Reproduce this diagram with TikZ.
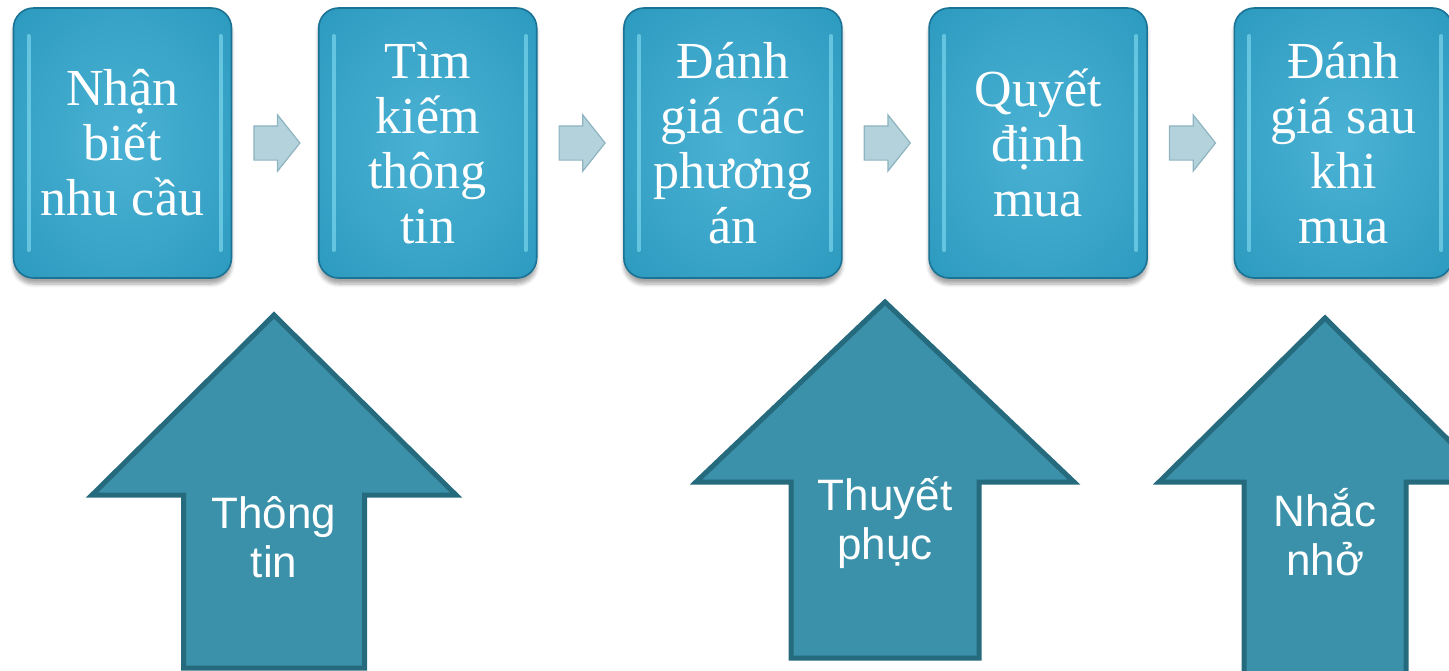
\documentclass[tikz,border=0pt]{standalone}
\usepackage{fontspec}
\setmainfont{Liberation Serif}
\newfontfamily\arrowfont{Liberation Sans}
\usetikzlibrary{positioning,shapes.arrows,shadows.blur,calc}

\definecolor{boxlight}{HTML}{4AB2D4}
\definecolor{boxdark}{HTML}{2392B8}
\definecolor{boxedge}{HTML}{1A7394}
\definecolor{gloss}{HTML}{8FE6F8}
\definecolor{stepfill}{HTML}{B4D2DB}
\definecolor{stepedge}{HTML}{8DB4C0}
\definecolor{upfill}{HTML}{3A91A9}
\definecolor{upedge}{HTML}{266A7D}

\pgfdeclareradialshading{glossy}{\pgfpoint{0bp}{0bp}}{%
  color(0bp)=(boxlight); color(22bp)=(boxlight!55!boxdark);
  color(45bp)=(boxdark); color(100bp)=(boxdark)}

\begin{document}
\begin{tikzpicture}[
  x=0.5pt, y=-0.5pt,
  node distance=42.8pt,
  box/.style={draw=boxedge, line width=0.8pt, rounded corners=10pt, shading=glossy,
    minimum width=109pt, minimum height=135pt, align=center, text=white,
    font=\fontsize{26pt}{27.5pt}\selectfont,
    blur shadow={shadow xshift=0pt, shadow yshift=-3pt, shadow opacity=35, shadow blur steps=6},
    path picture={
      \draw[gloss, line width=2pt, line cap=round, opacity=0.55]
        ([xshift=7.5pt, yshift=-14pt]path picture bounding box.north west)
        -- ([xshift=7.5pt, yshift=14pt]path picture bounding box.south west);
      \draw[gloss, line width=2pt, line cap=round, opacity=0.55]
        ([xshift=-5.5pt, yshift=-14pt]path picture bounding box.north east)
        -- ([xshift=-5.5pt, yshift=14pt]path picture bounding box.south east);
    }},
  stepto/.style={single arrow, draw=stepedge, fill=stepfill, line width=0.6pt,
    inner sep=0pt, text height=16.5pt, single arrow head extend=5.5pt,
    minimum height=23pt, single arrow tip angle=103, xshift=-2.5pt},
  uparrow/.style={draw=upedge, fill=upfill, line width=2.5pt, line join=miter},
  uplabel/.style={align=center, text=white, font=\arrowfont\fontsize{22pt}{24.5pt}\selectfont}
]
  \useasboundingbox (0,0) rectangle (1449,670);
  \clip (0,0) rectangle (1449,670);

  % the five buying stages
  \node[box] (need) at (122.5,143) {Nhận\\biết\\nhu cầu};
  \node[box, right=of need] (search) {Tìm\\kiếm\\thông\\tin};
  \node[box, right=of search] (evaluate) {Đánh\\giá các\\phương\\án};
  \node[box, right=of evaluate] (decide) {Quyết\\định\\mua};
  \node[box, right=of decide] (after) {Đánh\\giá sau\\khi\\mua};

  % small arrows between the stages
  \node[stepto] (s1) at ($(need.east)!0.5!(search.west)$) {};
  \node[stepto] (s2) at ($(search.east)!0.5!(evaluate.west)$) {};
  \node[stepto] (s3) at ($(evaluate.east)!0.5!(decide.west)$) {};
  \node[stepto] (s4) at ($(decide.east)!0.5!(after.west)$) {};

  % big up arrows
  \draw[uparrow] (274,315) -- (456,495) -- (364.5,495) -- (364.5,668)
    -- (183.5,668) -- (183.5,495) -- (92,495) -- cycle;
  \draw[uparrow] (885,302) -- (1074,482) -- (979,482) -- (979,658)
    -- (791,658) -- (791,482) -- (696,482) -- cycle;
  \draw[uparrow] (1325,318) -- (1491,482) -- (1406,482) -- (1406,700)
    -- (1244,700) -- (1244,482) -- (1159,482) -- cycle;

  \node[uplabel] (inform) at (274,537) {Thông\\tin};
  \node[uplabel] (persuade) at (885,523) {Thuyết\\phục};
  \node[uplabel] (remind) at (1325,532) {Nhắc\\nhở};
\end{tikzpicture}
\end{document}
